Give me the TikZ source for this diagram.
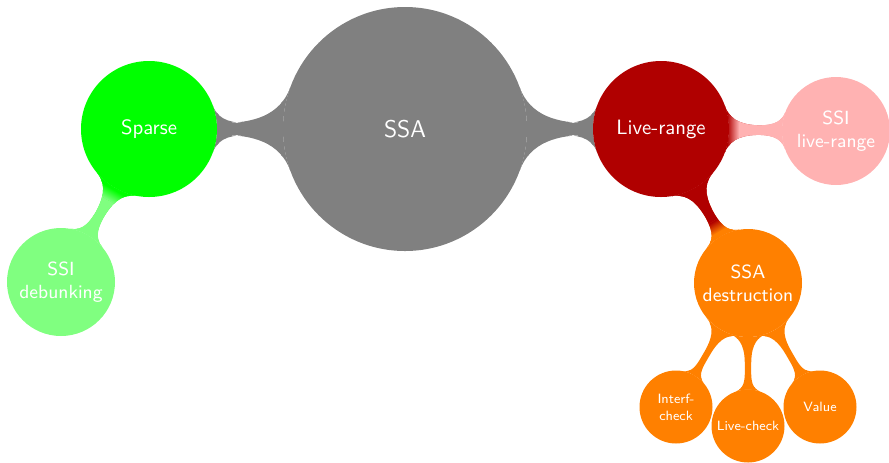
\documentclass[tikz,border=0pt]{standalone}
\usetikzlibrary{mindmap}
\definecolor{cgray}{RGB}{128,128,128}
\definecolor{cgreen}{RGB}{0,255,0}
\definecolor{clgreen}{RGB}{128,255,128}
\definecolor{cred}{RGB}{176,0,0}
\definecolor{cpink}{RGB}{255,178,178}
\definecolor{corange}{RGB}{255,128,0}
\pgfdeclarelayer{background}
\pgfsetlayers{background,main}
\tikzset{
  cnode/.style={circle, fill=#1, text=white, inner sep=0pt, outer sep=0pt, align=center},
  lvzero/.style={minimum size=244*0.4673pt, font=\sffamily\fontsize{11.3}{13.5}\selectfont},
  lvone/.style={minimum size=136*0.4673pt, font=\sffamily\fontsize{9.7}{11.5}\selectfont},
  lvtwo/.style={minimum size=108*0.4673pt, font=\sffamily\fontsize{8.9}{10.8}\selectfont},
  lvthree/.style={minimum size=73*0.4673pt, font=\sffamily\fontsize{6.3}{8}\selectfont},
}
\newcommand{\switchband}[5]{% #1 centre, #2 angle, #3 from colour, #4 to colour, #5 half width
  \begin{scope}[transform canvas={shift={#1}, rotate=#2}]
    \fill[#3] (-220,-90) rectangle (-#5,90);
    \shade[left color=#3, right color=#4] (-#5,-90) rectangle (#5,90);
    \fill[#4] (#5,-90) rectangle (220,90);
  \end{scope}}
\begin{document}
\begin{tikzpicture}[x=0.4673pt, y=0.4673pt]
\useasboundingbox (0,-462) rectangle (889,0);
\node[cnode=cgray, lvzero] (ssa) at (405,-129) {SSA};
\node[cnode=cgreen, lvone] (sp) at (149,-129) {Sparse};
\node[cnode=cred, lvone] (lr) at (661,-129) {Live-range};
\node[cnode=cpink, lvtwo] (ssilr) at (836,-131) {SSI\\live-range};
\node[cnode=corange, lvtwo] (dest) at (748,-283) {SSA\\destruction};
\node[cnode=clgreen, lvtwo] (ssid) at (61,-282) {SSI\\debunking};
\node[cnode=corange, lvthree] (ic) at (676,-407) {Interf-\\check};
\node[cnode=corange, lvthree] (lc) at (748,-426) {Live-check};
\node[cnode=corange, lvthree] (val) at (820,-407) {Value};
\begin{pgfonlayer}{background}
\path (ssa) to[circle connection bar switch color=from (cgray) to (cgray)] (sp);
\path (ssa) to[circle connection bar switch color=from (cgray) to (cgray)] (lr);
\path (dest) to[circle connection bar switch color=from (corange) to (corange)] (ic);
\path (dest) to[circle connection bar switch color=from (corange) to (corange)] (lc);
\path (dest) to[circle connection bar switch color=from (corange) to (corange)] (val);
\begin{scope}
  \clip (lr) to[circle connection bar switch color=from (cred) to (cpink)] (ssilr);
  \switchband{(733,-129)}{0}{cred}{cpink}{6}
\end{scope}
\begin{scope}
  \clip (lr) to[circle connection bar switch color=from (cred) to (corange)] (dest);
  \switchband{(717,-226)}{-60}{cred}{corange}{6}
\end{scope}
\begin{scope}
  \clip (sp) to[circle connection bar switch color=from (cgreen) to (clgreen)] (ssid);
  \switchband{(111,-195)}{-120}{cgreen}{clgreen}{6}
\end{scope}
\end{pgfonlayer}
\end{tikzpicture}
\end{document}
